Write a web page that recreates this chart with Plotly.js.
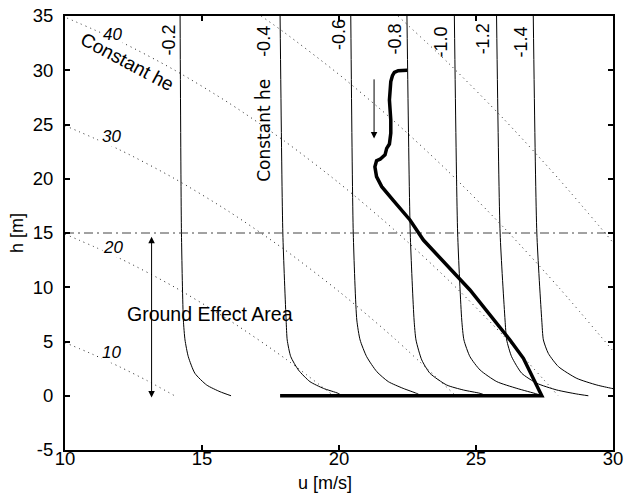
<!DOCTYPE html>
<html>
<head>
<meta charset="utf-8">
<script src="https://cdn.plot.ly/plotly-3.0.1.min.js"></script>
<style>html,body{margin:0;padding:0;background:#fff}#chart{width:625px;height:494px}</style>
</head>
<body>
<div id="chart"></div>
<script>
// ---- constant h-dot-e curves (u [m/s], h [m]) ----
const hdotLabels = ["-0.2", "-0.4", "-0.6", "-0.8", "-1.0", "-1.2", "-1.4"];
const hdot02_u = [14.2, 14.25, 14.32, 14.38, 14.5, 14.74, 15.17, 15.66, 16.06];
const hdot02_h = [35, 15, 6.98, 5.14, 3.6, 2.07, 0.99, 0.37, 0];
const hdot04_u = [17.85, 17.95, 18.07, 18.11, 18.24, 18.52, 18.94, 19.43, 19.97, 20.1];
const hdot04_h = [35, 15, 6.98, 5.14, 3.6, 2.37, 1.3, 0.68, 0.22, 0];
const hdot06_u = [20.43, 20.52, 20.65, 20.77, 21.01, 21.38, 21.8, 22.34, 22.83, 23.0];
const hdot06_h = [35, 15, 6.98, 5.14, 3.6, 2.22, 1.3, 0.68, 0.22, 0];
const hdot08_u = [22.48, 22.6, 22.74, 22.81, 23.02, 23.32, 23.93, 24.54, 25.15, 25.4];
const hdot08_h = [35, 15, 6.98, 5.14, 3.3, 2.07, 0.99, 0.53, 0.22, 0];
const hdot10_u = [24.21, 24.33, 24.48, 24.56, 24.78, 25.15, 25.76, 26.49, 27.22, 27.4];
const hdot10_h = [35, 15, 6.98, 5.14, 3.6, 2.37, 1.3, 0.68, 0.16, 0];
const hdot12_u = [25.75, 25.88, 26.06, 26.12, 26.3, 26.67, 27.22, 27.95, 28.68, 29.1];
const hdot12_h = [35, 15, 6.98, 5.14, 3.6, 2.07, 1.15, 0.53, 0.16, 0];
const hdot14_u = [27.09, 27.22, 27.4, 27.46, 27.64, 28.01, 28.68, 29.41, 29.95, 30.4];
const hdot14_h = [35, 15, 6.98, 5.14, 3.9, 2.68, 1.6, 0.99, 0.68, 0.45];
const hdotLabel_u = [13.78, 17.26, 20.0, 22.03, 23.72, 25.24, 26.64];
const hdotLabel_h = [32.8, 32.7, 33.25, 32.9, 32.65, 32.9, 32.65];

// ---- constant energy height he (dotted) ----
const heLabels = ["10", "20", "30", "40"];
const he10_u = [10, 11, 12, 13, 14.0];
const he10_h = [4.9, 3.83, 2.66, 1.39, 0];
const he20_u = [10, 12, 14, 16, 18, 19.8];
const he20_h = [14.9, 12.66, 10.01, 6.95, 3.49, 0];
const he30_u = [10, 12, 14, 16, 18, 20, 22, 24.26];
const he30_h = [24.9, 22.66, 20.01, 16.95, 13.49, 9.61, 5.33, 0];
const he40_u = [9.9, 12, 14, 16, 18, 20, 22, 24, 26, 28.0];
const he40_h = [35, 32.66, 30.01, 26.95, 23.49, 19.61, 15.33, 10.64, 5.54, 0];
const he50_u = [17.16, 18, 20, 22, 24, 26, 28, 30];
const he50_h = [35, 33.49, 29.61, 25.33, 20.64, 15.54, 10.04, 4.13];
const he60_u = [22.15, 24, 26, 28, 30];
const he60_h = [35, 30.64, 25.54, 20.04, 14.13];
const heLabel_u = [11.7, 11.75, 11.7, 11.75];
const heLabel_h = [4.0, 13.65, 23.9, 33.25];

// ---- landing trajectory (thick) ----
const traj_u = [22.49, 22.16, 22.02, 21.95, 21.89, 21.84, 21.89, 21.89, 21.84, 21.74, 21.68, 21.5, 21.37, 21.31, 21.37, 21.56, 21.98, 22.59, 23.08, 24.3, 24.78, 26.24, 26.73, 27.4, 17.85];
const traj_h = [30.0, 29.96, 29.8, 29.5, 28.95, 27.26, 25.4, 24.2, 23.2, 22.8, 22.2, 21.8, 21.66, 21.1, 20.2, 19.27, 18.0, 16.2, 14.35, 10.97, 9.75, 5.14, 3.45, 0.0, 0.0];

// ---- ground effect boundary, axes ----
const groundEffectH = 15;
const xRange = [10, 30];
const yRange = [-5, 35];
const xTickVals = [10, 15, 20, 25, 30];
const xTickText = ["10", "15", "20", "25", "30"];
const yTickVals = [-5, 0, 5, 10, 15, 20, 25, 30, 35];
const yTickText = ["-5", "0", "5", "10", "15", "20", "25", "30", "35"];

const FONT = "Liberation Sans, Arial, Helvetica, sans-serif";
const traces = [];

const hdotU = [hdot02_u, hdot04_u, hdot06_u, hdot08_u, hdot10_u, hdot12_u, hdot14_u];
const hdotH = [hdot02_h, hdot04_h, hdot06_h, hdot08_h, hdot10_h, hdot12_h, hdot14_h];
hdotU.forEach((u, i) => traces.push({
  x: u, y: hdotH[i], mode: "lines", type: "scatter", hoverinfo: "skip",
  line: {color: "#000", width: 1, shape: "spline", smoothing: 0.6}
}));

const heU = [he10_u, he20_u, he30_u, he40_u, he50_u, he60_u];
const heH = [he10_h, he20_h, he30_h, he40_h, he50_h, he60_h];
heU.forEach((u, i) => traces.push({
  x: u, y: heH[i], mode: "lines", type: "scatter", hoverinfo: "skip",
  line: {color: "#222", width: 1, dash: "1px,4px", shape: "spline", smoothing: 0.8}
}));

traces.push({
  x: xRange, y: [groundEffectH, groundEffectH], mode: "lines", type: "scatter", hoverinfo: "skip",
  line: {color: "#444", width: 1, dash: "9px,4px,2px,4px"}
});

traces.push({
  x: traj_u, y: traj_h, mode: "lines", type: "scatter", hoverinfo: "skip",
  line: {color: "#000", width: 3.5}
});

const annotations = [];
hdotLabels.forEach((t, i) => annotations.push({
  x: hdotLabel_u[i], y: hdotLabel_h[i], xref: "x", yref: "y", text: t, showarrow: false,
  textangle: -90, font: {family: FONT, size: 18, color: "#000"}
}));
heLabels.forEach((t, i) => annotations.push({
  x: heLabel_u[i], y: heLabel_h[i], xref: "x", yref: "y", text: t, showarrow: false,
  bgcolor: "#fff", borderpad: 0,
  font: {family: FONT, size: 17, color: "#000", style: "italic"}
}));
annotations.push({
  x: 12.25, y: 30.8, xref: "x", yref: "y", text: "Constant he", showarrow: false,
  textangle: 28, font: {family: FONT, size: 19, color: "#000"}
});
annotations.push({
  x: 17.26, y: 24.5, xref: "x", yref: "y", text: "Constant h\u0307e", showarrow: false,
  textangle: -90, font: {family: "DejaVu Sans, Liberation Sans, sans-serif", size: 17, color: "#000"}
});
annotations.push({
  x: 15.3, y: 7.5, xref: "x", yref: "y", text: "Ground Effect Area", showarrow: false,
  font: {family: FONT, size: 19.5, color: "#000"}
});
// descent direction arrow
annotations.push({
  x: 21.28, y: 23.7, ax: 21.28, ay: 29.3, xref: "x", yref: "y", axref: "x", ayref: "y",
  text: "", showarrow: true, arrowhead: 2, arrowsize: 1.3, arrowwidth: 1, arrowcolor: "#000"
});
// ground effect double arrow
annotations.push({
  x: 13.16, y: -0.15, ax: 13.16, ay: 14.8, xref: "x", yref: "y", axref: "x", ayref: "y",
  text: "", showarrow: true, arrowhead: 2, startarrowhead: 2, arrowside: "end+start",
  arrowsize: 1.3, startarrowsize: 1.3, arrowwidth: 1, arrowcolor: "#000"
});
annotations.push({
  x: 0.4745, y: -0.077, xref: "paper", yref: "paper", text: "u [m/s]", showarrow: false,
  xanchor: "center", yanchor: "middle", font: {family: FONT, size: 18, color: "#000"}
});

const axisCommon = {
  showgrid: false, zeroline: false, showline: true, linewidth: 2, linecolor: "#000",
  mirror: "ticks", ticks: "inside", ticklen: 5, tickwidth: 2, tickcolor: "#000",
  tickfont: {family: FONT, size: 18.5, color: "#000"}, tickmode: "array", fixedrange: true
};

const layout = {
  width: 625, height: 494,
  margin: {l: 65, r: 12, t: 16, b: 44},
  paper_bgcolor: "#fff", plot_bgcolor: "#fff",
  showlegend: false,
  font: {family: FONT, size: 18, color: "#000"},
  xaxis: Object.assign({}, axisCommon, {range: xRange, tickvals: xTickVals, ticktext: xTickText,
    ticklabelstandoff: -9}),
  yaxis: Object.assign({}, axisCommon, {range: yRange, tickvals: yTickVals, ticktext: yTickText,
    ticklabelstandoff: 6,
    title: {text: "h [m]", font: {family: FONT, size: 18, color: "#000"}, standoff: 4}}),
  annotations: annotations
};

Plotly.newPlot("chart", traces, layout, {staticPlot: true, displayModeBar: false});
</script>
</body>
</html>
